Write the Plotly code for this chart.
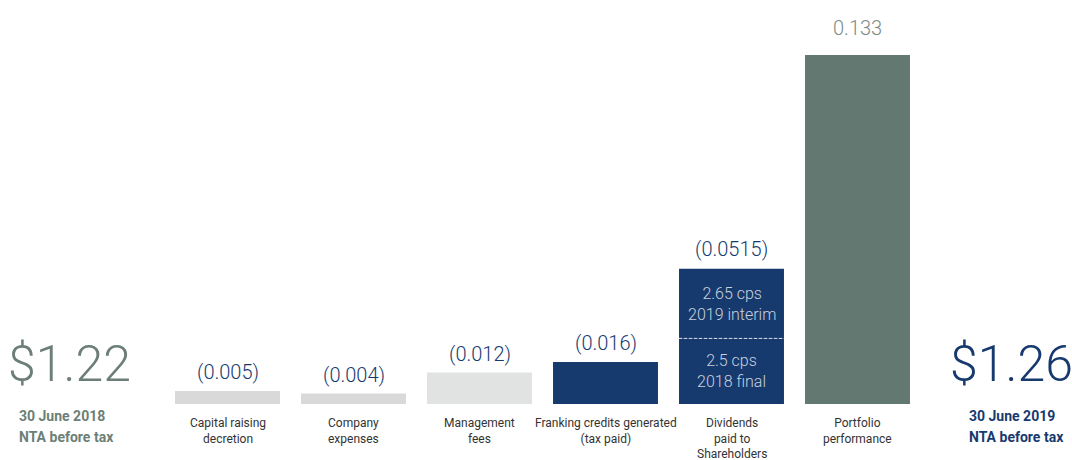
import plotly.graph_objects as go

categories = ["Capital raising<br>decretion", "Company<br>expenses", "Management<br>fees",
              "Franking credits generated<br>(tax paid)", "Dividends<br>paid to<br>Shareholders",
              "Portfolio<br>performance"]
values = [0.005, 0.004, 0.012, 0.016, 0.0515, 0.133]
value_labels = ["(0.005)", "(0.004)", "(0.012)", "(0.016)", "(0.0515)", "0.133"]
dividend_parts = [0.025, 0.0265]
dividend_part_labels = ["2.5 cps<br>2018 final", "2.65 cps<br>2019 interim"]
start_nta = "$1.22"
end_nta = "$1.26"
start_label = ["30 June 2018", "NTA before tax"]
end_label = ["30 June 2019", "NTA before tax"]

NAVY = "#173a6e"
GREEN = "#627870"
bar_colors = ["#d9d9d9", "#d9d9d9", "#e0e3e2", NAVY, NAVY, GREEN]
label_colors = [NAVY, NAVY, NAVY, NAVY, NAVY, "#7d8b86"]
label_shifts = [5, 5, 5, 5, 6, 13]

FONT = "Roboto"
xs = list(range(len(categories)))
main_vals = [v if i != 4 else dividend_parts[0] for i, v in enumerate(values)]

fig = go.Figure()
fig.add_trace(go.Bar(x=xs, y=main_vals, marker=dict(color=bar_colors, line=dict(width=0)),
                     width=0.833, hoverinfo="skip"))
fig.add_trace(go.Bar(x=[4], y=[dividend_parts[1]], base=[dividend_parts[0]],
                     marker=dict(color=NAVY, line=dict(width=0)), width=0.833, hoverinfo="skip"))

ann = []
for i, (v, t, c, s) in enumerate(zip(values, value_labels, label_colors, label_shifts)):
    ann.append(dict(x=i, y=v, text=t, showarrow=False, yanchor="bottom", yshift=s,
                    font=dict(family=FONT, size=20, color=c, weight=300)))
for i, cat in enumerate(categories):
    ann.append(dict(x=i, y=1 - 414 / 460, yref="paper", text=cat, showarrow=False, yanchor="top",
                    font=dict(family=FONT, size=12, color="#333333")))
# dividend segments
ann.append(dict(x=4, y=dividend_parts[0] / 2, text=dividend_part_labels[0], showarrow=False,
                font=dict(family=FONT, size=16, color="#c9d1de", weight=300)))
ann.append(dict(x=4, y=dividend_parts[0] + dividend_parts[1] / 2, text=dividend_part_labels[1],
                showarrow=False, font=dict(family=FONT, size=16, color="#c9d1de", weight=300)))
# NTA start / end
ann.append(dict(x=69 / 1072, xref="paper", xanchor="center", y=1 - 395 / 460, yref="paper",
                text=start_nta, showarrow=False, font=dict(family=FONT, size=50, color="#6c7f77", weight=300)))
ann.append(dict(x=1011 / 1072, xref="paper", xanchor="center", y=1 - 395 / 460, yref="paper",
                text=end_nta, showarrow=False, font=dict(family=FONT, size=50, color=NAVY, weight=300)))
for k, line in enumerate(start_label):
    ann.append(dict(x=17 / 1072, xref="paper", xanchor="left", y=1 - (426 + 21 * k) / 460, yref="paper",
                    text=line, showarrow=False,
                    font=dict(family=FONT, size=14, color="#6c7f77", weight=700)))
for k, line in enumerate(end_label):
    ann.append(dict(x=967 / 1072, xref="paper", xanchor="left", y=1 - (426 + 21 * k) / 460, yref="paper",
                    text=line, showarrow=False,
                    font=dict(family=FONT, size=14, color=NAVY, weight=700)))

shapes = [dict(type="line", x0=4 - 0.4165, x1=4 + 0.4165, y0=dividend_parts[0], y1=dividend_parts[0],
               xref="x", yref="y", line=dict(color="#d6dce6", width=1, dash="3px,2px"))]

x0 = -227.5 / 126
fig.update_layout(
    width=1072, height=460, margin=dict(l=0, r=0, t=0, b=0),
    paper_bgcolor="white", plot_bgcolor="white", showlegend=False, barmode="overlay",
    xaxis=dict(range=[x0, x0 + 1072 / 126], visible=False, fixedrange=True),
    yaxis=dict(range=[-(460 - 404) / 2624, 404 / 2624], visible=False, fixedrange=True),
    annotations=ann, shapes=shapes,
)
fig.write_html("out.html", config={"displayModeBar": False},
               post_script="document.body.style.margin='0';document.body.style.overflow='hidden';")
